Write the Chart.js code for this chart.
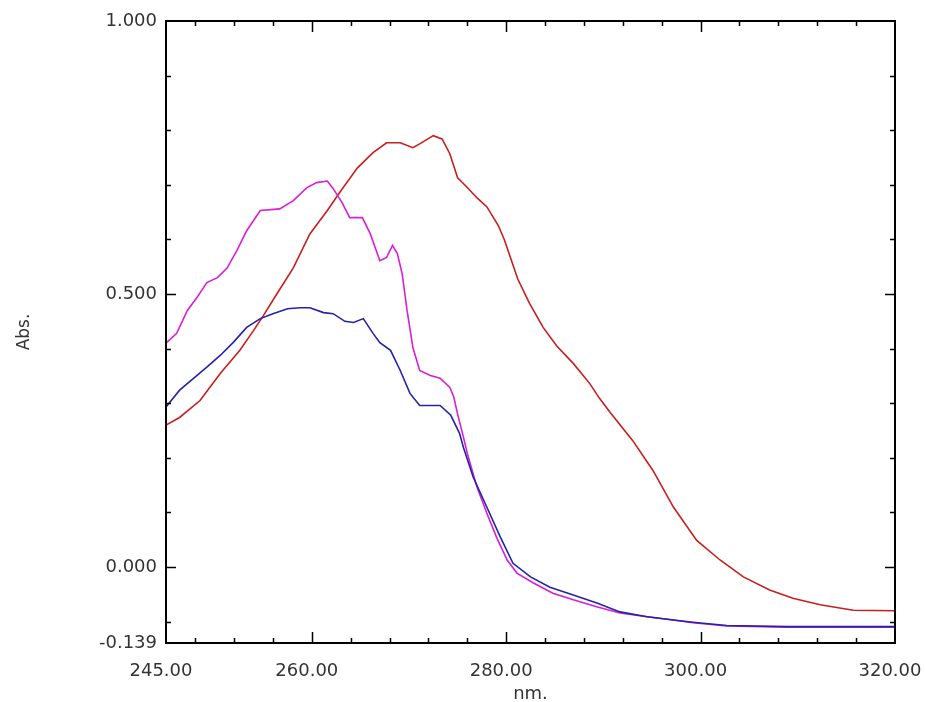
<!DOCTYPE html>
<html>
<head>
<meta charset="utf-8">
<title>Absorbance spectra</title>
<script src="https://cdn.jsdelivr.net/npm/chart.js@4/dist/chart.umd.min.js"></script>
<style>
  html, body { margin: 0; padding: 0; background: #ffffff; }
  #wrap { width: 925px; height: 702px; }
</style>
</head>
<body>
<div id="wrap"><canvas id="spectra" width="925" height="702"></canvas></div>
<script>
// Wavelength (nm) and absorbance readings for each spectrum
const redNm = [245.0, 246.4, 248.5, 250.6, 252.6, 254.0, 255.0, 256.4, 258.1, 259.8, 261.6, 262.9,
  264.7, 266.3, 267.7, 269.1, 270.4, 271.1, 272.5, 273.4, 274.2, 275.0, 276.0, 277.0, 278.0, 279.2,
  279.8, 281.2, 282.4, 283.8, 285.2, 286.9, 288.6, 289.6, 290.7, 293.0, 295.1, 297.2, 299.6, 302.0,
  304.4, 307.1, 309.5, 312.3, 315.7, 320.0];
const redAbs = [0.260, 0.274, 0.305, 0.355, 0.397, 0.433, 0.460, 0.500, 0.548, 0.610, 0.653, 0.687,
  0.731, 0.759, 0.777, 0.777, 0.768, 0.775, 0.790, 0.784, 0.757, 0.713, 0.695, 0.676, 0.660, 0.625,
  0.600, 0.527, 0.483, 0.439, 0.405, 0.373, 0.336, 0.309, 0.283, 0.232, 0.177, 0.110, 0.049, 0.013,
  -0.018, -0.042, -0.057, -0.069, -0.079, -0.080];

const magentaNm = [245.0, 246.1, 247.2, 248.2, 249.2, 250.3, 251.3, 252.3, 253.3, 254.7, 256.7, 258.1,
  259.5, 260.5, 261.6, 262.2, 263.1, 263.9, 265.2, 266.0, 267.0, 267.7, 268.3, 268.8, 269.3, 269.8,
  270.4, 271.1, 272.2, 273.2, 274.2, 274.6, 275.0, 275.6, 276.0, 277.0, 278.0, 279.0, 280.1, 281.1,
  282.8, 284.8, 286.9, 289.4, 291.7, 294.5, 297.2, 299.2, 302.7, 308.9, 320.0];
const magentaAbs = [0.410, 0.428, 0.470, 0.494, 0.521, 0.530, 0.548, 0.580, 0.616, 0.653, 0.656, 0.671,
  0.695, 0.704, 0.707, 0.693, 0.668, 0.640, 0.640, 0.611, 0.561, 0.567, 0.589, 0.574, 0.537, 0.470,
  0.402, 0.360, 0.351, 0.346, 0.329, 0.312, 0.280, 0.238, 0.208, 0.146, 0.099, 0.055, 0.013, -0.011,
  -0.029, -0.048, -0.060, -0.073, -0.084, -0.091, -0.097, -0.102, -0.108, -0.110, -0.110];

const blueNm = [245.0, 246.4, 247.8, 249.2, 250.6, 251.9, 253.3, 254.7, 256.0, 257.5, 258.8, 259.8,
  261.2, 262.2, 263.4, 264.3, 265.3, 266.3, 267.0, 268.1, 269.1, 270.1, 271.1, 273.2, 274.3, 275.2,
  275.6, 276.6, 278.0, 279.4, 280.7, 282.5, 284.5, 286.9, 289.4, 291.7, 294.5, 297.2, 299.2, 302.7,
  308.9, 320.0];
const blueAbs = [0.293, 0.324, 0.345, 0.366, 0.388, 0.411, 0.439, 0.455, 0.464, 0.473, 0.475, 0.475,
  0.466, 0.464, 0.450, 0.448, 0.455, 0.428, 0.411, 0.397, 0.360, 0.318, 0.296, 0.296, 0.278, 0.245,
  0.219, 0.165, 0.110, 0.055, 0.007, -0.018, -0.037, -0.051, -0.066, -0.082, -0.091, -0.097, -0.101,
  -0.107, -0.109, -0.109];

// Axis ticks: labelled values and the small unlabelled marks between them
const xLabelTicks = [245, 260, 280, 300, 320];
const xMinorTicks = [248, 252, 256, 264, 268, 272, 276, 284, 288, 292, 296, 304, 308, 312, 316];
const yLabelTicks = [1.0, 0.5, 0.0, -0.139];
const yMinorTicks = [-0.1, 0.1, 0.2, 0.3, 0.4, 0.6, 0.7, 0.8, 0.9];

const toPoints = (xs, ys) => xs.map((x, i) => ({ x: x, y: ys[i] }));

// Box frame with inward tick marks on all four sides
const frameTicks = {
  id: 'frameTicks',
  afterDatasetsDraw(chart) {
    const { ctx, chartArea: a, scales } = chart;
    const xs = scales.x, ys = scales.y;
    ctx.save();
    ctx.strokeStyle = '#000000';
    ctx.lineWidth = 1.5;
    ctx.beginPath();
    const xMarks = xMinorTicks.map(v => [v, 5]).concat([[260, 11], [280, 11], [300, 11]]);
    xMarks.forEach(([v, len]) => {
      const px = Math.round(xs.getPixelForValue(v)) + 0.5;
      ctx.moveTo(px, a.bottom); ctx.lineTo(px, a.bottom - len);
      ctx.moveTo(px, a.top); ctx.lineTo(px, a.top + len);
    });
    const yMarks = yMinorTicks.map(v => [v, 5]).concat([[0.5, 10], [0.0, 10]]);
    yMarks.forEach(([v, len]) => {
      const py = Math.round(ys.getPixelForValue(v)) + 0.5;
      ctx.moveTo(a.left, py); ctx.lineTo(a.left + len, py);
      ctx.moveTo(a.right, py); ctx.lineTo(a.right - len, py);
    });
    ctx.stroke();
    ctx.lineWidth = 2;
    ctx.strokeRect(a.left, a.top, a.right - a.left, a.bottom - a.top);
    ctx.restore();
  }
};

const labelFont = { family: '"DejaVu Sans", sans-serif', size: 18 };

new Chart(document.getElementById('spectra'), {
  type: 'line',
  data: {
    datasets: [
      { label: 'Blue', data: toPoints(blueNm, blueAbs), borderColor: '#2323a8', borderWidth: 1.6 },
      { label: 'Magenta', data: toPoints(magentaNm, magentaAbs), borderColor: '#d81ed8', borderWidth: 1.6 },
      { label: 'Red', data: toPoints(redNm, redAbs), borderColor: '#c81e1e', borderWidth: 1.6 }
    ]
  },
  options: {
    responsive: false,
    animation: false,
    devicePixelRatio: 1,
    layout: { padding: { left: 0, right: 30, top: 21, bottom: 0 } },
    elements: { point: { radius: 0 }, line: { tension: 0, fill: false } },
    plugins: { legend: { display: false }, tooltip: { enabled: false } },
    scales: {
      x: {
        type: 'linear',
        min: 245,
        max: 320,
        afterBuildTicks(scale) { scale.ticks = xLabelTicks.map(v => ({ value: v })); },
        afterFit(scale) { scale.height = 59; scale.paddingLeft = 0; scale.paddingRight = 0; },
        ticks: {
          autoSkip: false, maxRotation: 0, minRotation: 0,
          color: '#333333', font: labelFont, padding: 4, labelOffset: -5,
          callback: v => Number(v).toFixed(2)
        },
        grid: { display: true, drawOnChartArea: false, drawTicks: true, tickLength: 14, tickColor: 'rgba(0,0,0,0)' },
        border: { display: false },
        title: { display: true, text: 'nm.', color: '#333333', font: labelFont, padding: { top: 0, bottom: -3 } }
      },
      y: {
        type: 'linear',
        min: -0.139,
        max: 1.0,
        afterBuildTicks(scale) { scale.ticks = yLabelTicks.map(v => ({ value: v })); },
        afterFit(scale) { scale.width = 166; scale.paddingTop = 0; scale.paddingBottom = 0; },
        ticks: {
          autoSkip: false, color: '#333333', font: labelFont, padding: 3,
          callback: v => Number(v).toFixed(3)
        },
        grid: { display: true, drawOnChartArea: false, drawTicks: true, tickLength: 6, tickColor: 'rgba(0,0,0,0)' },
        border: { display: false },
        title: { display: true, text: 'Abs.', color: '#333333', font: { family: '"DejaVu Sans", sans-serif', size: 17 }, padding: { top: 14, bottom: 0 } }
      }
    }
  },
  plugins: [frameTicks]
});
</script>
</body>
</html>
